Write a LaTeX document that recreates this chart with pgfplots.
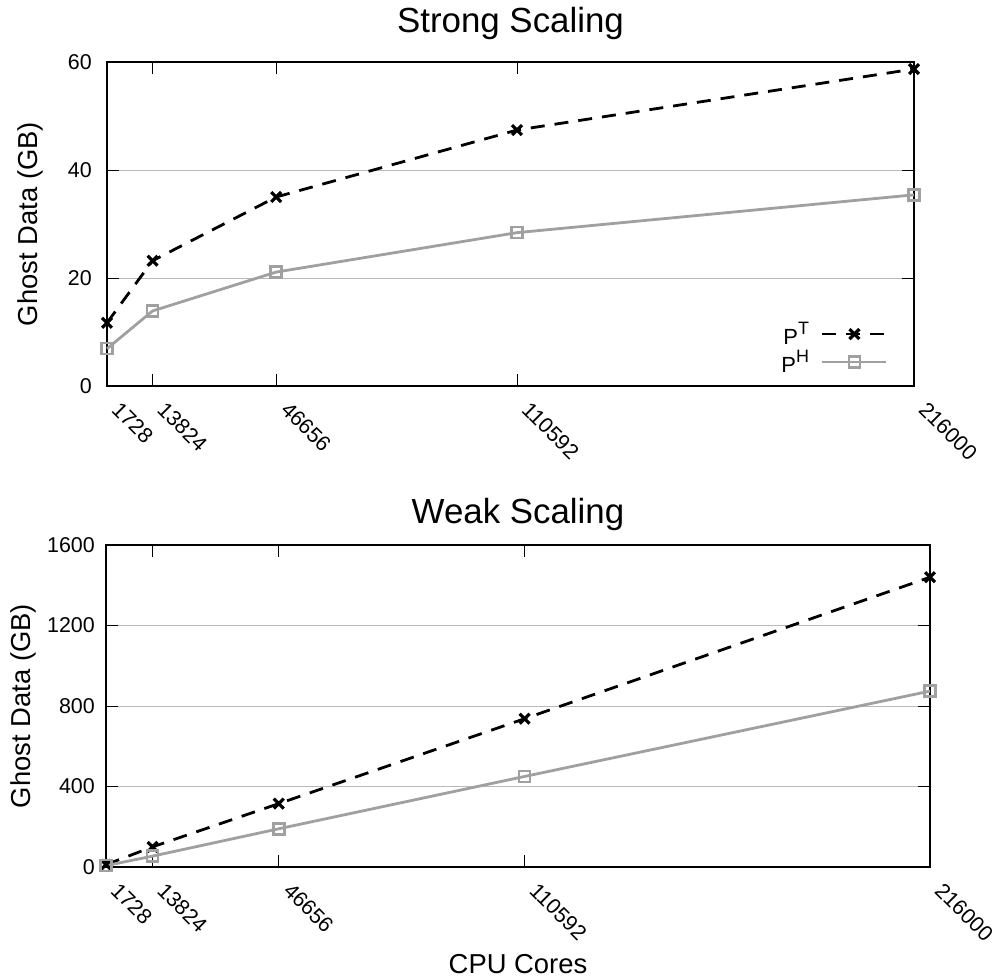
\documentclass[border=0pt]{standalone}
\usepackage{fontspec}
\setmainfont{Liberation Sans}
\usepackage{pgfplots}
\pgfplotsset{compat=1.18}

\definecolor{linegray}{RGB}{160,160,160}
\definecolor{gridgray}{RGB}{185,185,185}

\newcommand{\tickfont}{\fontsize{21.5}{21.5}\selectfont}
\newcommand{\labelfont}{\fontsize{27.5}{27.5}\selectfont}
\newcommand{\titlefont}{\fontsize{35}{35}\selectfont}
\newcommand{\sups}[1]{\raisebox{10bp}{\fontsize{18}{18}\selectfont #1}}

\pgfplotsset{
  scaling/.style={
    scale only axis,
    anchor=south west,
    clip=false,
    xmin=1728, xmax=216000,
    xtick={1728,13824,46656,110592,216000},
    xticklabels={1728,13824,46656,110592,216000},
    scaled x ticks=false, scaled y ticks=false,
    /pgf/number format/1000 sep={},
    /pgf/number format/assume math mode=true,
    tick align=inside,
    major tick length=12bp,
    tick style={black, line width=1bp},
    axis line style={black, line width=1.3bp},
    ymajorgrids,
    major grid style={gridgray, line width=1bp},
    ticklabel style={font=\tickfont},
    xticklabel style={xshift=3.5bp, yshift=-25bp, rotate=-45, anchor=base west, inner sep=0pt},
    yticklabel style={anchor=east, inner sep=0pt},
    every axis title/.style={at={(0.5,1)}, anchor=base, font=\titlefont},
    every axis y label/.style={rotate=90, anchor=base, font=\labelfont},
    every axis x label/.style={at={(0.5,0)}, anchor=base, font=\labelfont},
    legend image code/.code={
      \draw[mark repeat=2, mark phase=2, #1] plot coordinates {(0bp,0bp) (32bp,0bp) (64bp,0bp)};
    },
  },
  tser/.style={black, line width=2.8bp, dash pattern=on 14bp off 10bp,
    mark=x, mark size=7bp, mark options={solid, line width=3.2bp}},
  hser/.style={linegray, line width=2.8bp,
    mark=square, mark size=5.5bp, mark options={solid, line width=2.5bp}},
}

\begin{document}
\begin{tikzpicture}
\useasboundingbox (0bp,0bp) rectangle (998bp,-979bp);

% strong scaling
\begin{axis}[
  scaling,
  at={(107bp,-386bp)},
  width=807bp, height=324bp,
  ymin=0, ymax=60,
  ytick={0,20,40,60},
  yticklabel shift=15bp,
  title={Strong Scaling},
  title style={yshift=30bp},
  ylabel={Ghost Data (GB)},
  ylabel style={at={(axis description cs:-0.0867,0.5)}},
  legend plot pos=right,
  legend cell align=right,
  legend style={draw=none, fill=none, font=\fontsize{22}{22}\selectfont,
    at={(axis description cs:0.9678,0.037)}, anchor=south east,
    inner sep=0pt, column sep=12bp, row sep=4bp,
    nodes={inner sep=0pt}},
]
\addplot[tser] coordinates {
  (1728, 11.7) (13824, 23.2) (46656, 35.0) (110592, 47.4) (216000, 58.7)
};
\addlegendentry{P\sups{T}}
\addplot[hser] coordinates {
  (1728, 6.9) (13824, 13.9) (46656, 21.1) (110592, 28.4) (216000, 35.4)
};
\addlegendentry{P\sups{H}}
\end{axis}

% weak scaling
\begin{axis}[
  scaling,
  at={(106bp,-867bp)},
  width=824bp, height=322bp,
  ymin=0, ymax=1600,
  ytick={0,400,800,1200,1600},
  yticklabel shift=11bp,
  title={Weak Scaling},
  title style={yshift=22bp},
  ylabel={Ghost Data (GB)},
  ylabel style={at={(axis description cs:-0.0922,0.5)}},
  xlabel={CPU Cores},
  xlabel style={yshift=-106bp},
]
\addplot[tser] coordinates {
  (1728, 11.7) (13824, 100) (46656, 315) (110592, 737) (216000, 1440)
};
\addplot[hser] coordinates {
  (1728, 6.9) (13824, 54) (46656, 190) (110592, 450) (216000, 874)
};
\end{axis}
\end{tikzpicture}
\end{document}
